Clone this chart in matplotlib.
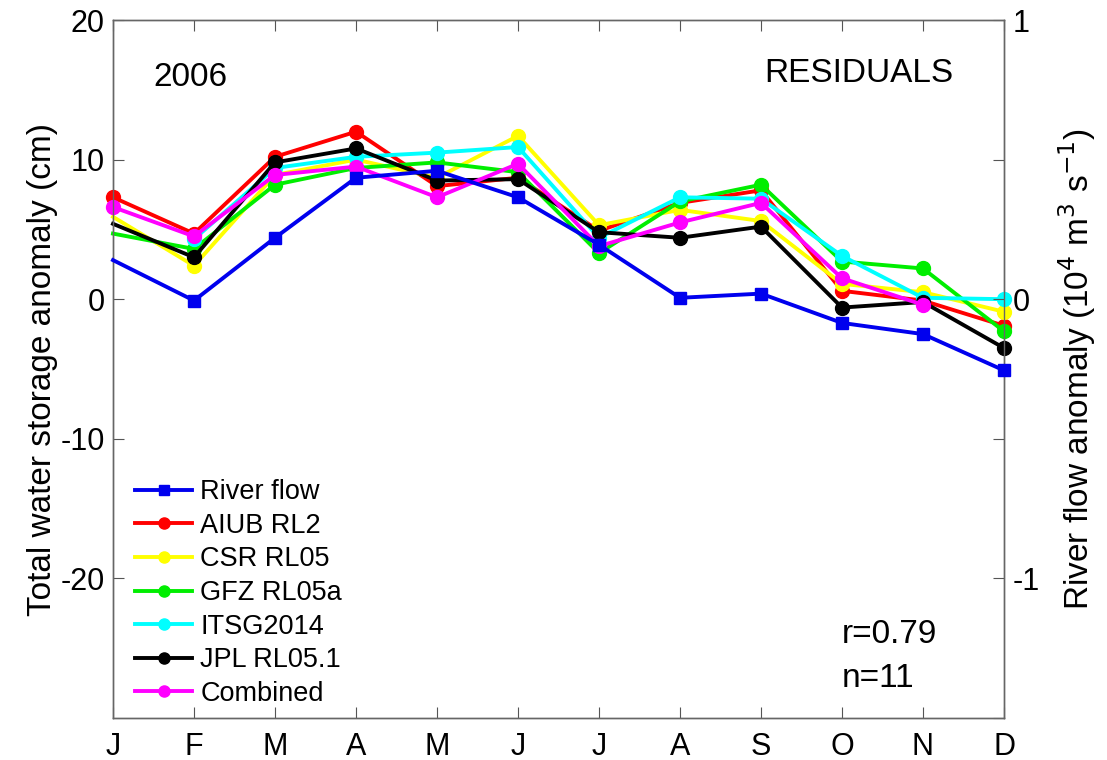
import numpy as np
import matplotlib
matplotlib.use('Agg')
import matplotlib.pyplot as plt

# ----------------------------------------------------------------------------------------------------------------------
#  DATA
# ----------------------------------------------------------------------------------------------------------------------
months      = np.arange(1, 13)
month_ticks = ['J', 'F', 'M', 'A', 'M', 'J', 'J', 'A', 'S', 'O', 'N', 'D']

# river flow anomaly (10^4 m3/s), right axis
river_flow  = [0.14, -0.005, 0.22, 0.435, 0.46, 0.365, 0.195, 0.005, 0.02, -0.085, -0.125, -0.255]

# total water storage anomaly (cm), left axis
aiub_rl2    = [7.3, 4.7, 10.2, 12.0, 8.1, 8.7, 4.9, 6.9, 7.8, 0.6, -0.1, -1.9]
csr_rl05    = [5.9, 2.4, 8.9, 10.0, 8.7, 11.7, 5.3, 6.4, 5.6, 1.1, 0.5, -0.9]
gfz_rl05a   = [4.7, 3.6, 8.2, 9.4, 9.8, 9.1, 3.3, 7.0, 8.2, 2.7, 2.2, -2.3]
itsg2014    = [np.nan, 4.3, 9.4, 10.2, 10.5, 10.9, 4.4, 7.3, 7.2, 3.1, 0.1, 0.0]
jpl_rl051   = [5.4, 3.0, 9.8, 10.8, 8.5, 8.6, 4.8, 4.4, 5.2, -0.6, -0.2, -3.5]
combined    = [6.6, 4.5, 8.9, 9.5, 7.3, 9.7, 3.8, 5.5, 6.9, 1.5, -0.4, np.nan]

left_ticks   = [-20, -10, 0, 10, 20]
right_ticks  = [-1.5, -1, -0.5, 0, 0.5, 1]
right_labels = ['', '-1', '', '0', '', '1']

# ----------------------------------------------------------------------------------------------------------------------
#  PLOT
# ----------------------------------------------------------------------------------------------------------------------
plt.rcParams['font.family'] = ['Liberation Sans', 'DejaVu Sans']
plt.rcParams['axes.unicode_minus'] = False

lw  = 2.8
ms  = 10
no_first = list(range(1, 12))   # first point lies on the frame edge without marker

fig = plt.figure(figsize=(11.07, 7.6), dpi=100)
ax1 = fig.add_axes([113/1107, 42/760, 891/1107, 698/760])
ax2 = ax1.twinx()

series = [(aiub_rl2,  'AIUB RL2',    '#ff0000', None),
          (csr_rl05,  'CSR RL05',    '#ffff00', no_first),
          (gfz_rl05a, 'GFZ RL05a',   '#00ee00', no_first),
          (itsg2014,  'ITSG2014',    '#00ffff', None),
          (jpl_rl051, 'JPL RL05.1',  '#000000', no_first),
          (combined,  'Combined',    '#ff00ff', None)]

handles = {}
for vals, name, col, mev in series:
    h, = ax1.plot(months, vals, color=col, linewidth=lw, marker='o', markersize=ms,
                  markevery=mev, label=name, clip_on=False, zorder=3)
    handles[name] = h

hr, = ax2.plot(months, river_flow, color='#0000ee', linewidth=lw, marker='s', markersize=ms*0.85,
               markevery=no_first, label='River flow', clip_on=False, zorder=3)

ax1.set_xlim(1, 12)
ax1.set_ylim(-30, 20)
ax2.set_ylim(-1.5, 1)

ax1.set_xticks(months)
ax1.set_xticklabels(month_ticks)
ax1.set_yticks(left_ticks)
ax2.set_yticks(right_ticks)
ax2.set_yticklabels(right_labels)

ax1.tick_params(axis='both', direction='in', length=8, labelsize=22, top=True, color='#555555', pad=6)
ax1.tick_params(axis='x', pad=10)
ax1.tick_params(axis='y', right=False)
ax2.tick_params(axis='y', direction='in', length=8, labelsize=22, color='#555555', pad=6)

for ax in (ax1, ax2):
    for sp in ax.spines.values():
        sp.set_color('#666666')
        sp.set_linewidth(1.0)

ax1.set_ylabel('Total water storage anomaly (cm)', fontsize=24, labelpad=2)
ax2.set_ylabel(r'River flow anomaly (10$^4$ m$^3$ s$^{-1}$)', fontsize=24, labelpad=12)

ax2.text(0.045, 0.917, '2006', transform=ax2.transAxes, fontsize=24, ha='left', va='center')
ax2.text(0.943, 0.923, 'RESIDUALS', transform=ax2.transAxes, fontsize=24, ha='right', va='center')
ax2.text(0.818, 0.119, 'r=0.79', transform=ax2.transAxes, fontsize=24, ha='left', va='center')
ax2.text(0.818, 0.057, 'n=11', transform=ax2.transAxes, fontsize=24, ha='left', va='center')

leg_handles = [hr] + [handles[s[1]] for s in series]
leg = ax2.legend(handles=leg_handles, loc='lower left', bbox_to_anchor=(0.025, 0.016),
                 frameon=False, fontsize=19.5, handlelength=2.1, handletextpad=0.3,
                 labelspacing=0.28, borderaxespad=0, borderpad=0, markerscale=0.8)

fig.savefig('out.png', dpi=100)
